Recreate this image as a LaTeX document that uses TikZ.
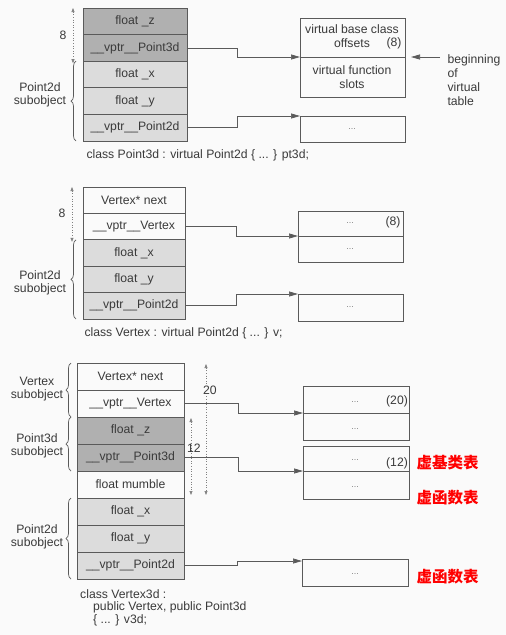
\documentclass[tikz,border=0pt]{standalone}
\usepackage{fontspec}
\setmainfont{Liberation Sans}
\newfontfamily\cjk{Noto Sans CJK SC}
\usetikzlibrary{arrows.meta,decorations.pathreplacing}
\definecolor{txt}{HTML}{3A3A3A}
\definecolor{ln}{HTML}{5A5A5A}
\definecolor{darkc}{HTML}{B0B0B0}
\definecolor{lightc}{HTML}{DCDCDC}
\definecolor{bgc}{HTML}{FAFAFA}
\definecolor{hl}{HTML}{FF0000}
\begin{document}
\begin{tikzpicture}[x=1pt,y=-1pt,
  font=\fontsize{12.2}{14}\selectfont, text=txt,
  cell/.style={draw=ln, line width=0.9pt, inner sep=0pt, outer sep=0pt},
  c1/.style={cell, minimum width=104, minimum height=26.6},
  c2/.style={cell, minimum width=102, minimum height=26.4},
  c3/.style={cell, minimum width=107, minimum height=27},
  vbox/.style={draw=ln, line width=0.9pt, inner sep=0pt, outer sep=0pt, minimum width=105},
  dots/.style={text=gray, font=\fontsize{9}{10}\selectfont},
  lbl/.style={align=center, font=\fontsize{12.2}{13.5}\selectfont},
  conn/.style={draw=ln, line width=0.7pt, -{Triangle[length=9pt,width=5pt]}},
  dimln/.style={draw=gray, line width=0.6pt, dotted, {Triangle[length=4pt,width=3pt]}-{Triangle[length=4pt,width=3pt]}},
  brc/.style={draw=ln, line width=0.7pt, decorate, decoration={brace, amplitude=5pt}},
  red/.style={text=hl, font=\cjk\bfseries\fontsize{15.5}{17}\selectfont, anchor=west},
]
\fill[bgc] (0,0) rectangle (506,635);
\useasboundingbox (0,0) rectangle (506,635);

% ---------------- Section 1 ----------------
\node[c1, fill=darkc] (a1) at (135,21.3) {float \_z};
\node[c1, fill=darkc] (a2) at (135,47.9) {\_\_vptr\_\_Point3d};
\node[c1, fill=lightc] (a3) at (135,74.5) {float \_x};
\node[c1, fill=lightc] (a4) at (135,101.1) {float \_y};
\node[c1, fill=lightc] (a5) at (135,127.7) {\_\_vptr\_\_Point2d};

\draw[dimln] ([xshift=-10]a1.north west) -- ([xshift=-10,yshift=-2]a2.south west);
\node (n8a) at (63,35) {8};
\draw[brc] ([xshift=-7]a5.south west) -- ([xshift=-7]a3.north west);
\node[lbl] (l1) at (40,95) {Point2d\\subobject};

\node[vbox, minimum height=39] (t1a) at (352.5,37.5) {};
\node[vbox, minimum height=40] (t1b) at (352.5,77) {};
\node (t1a1) at (352,29) {virtual base class};
\node (t1a2) at (352,43) {offsets};
\node (t1a3) at (394,43) {(8)};
\node (t1b1) at (352,70) {virtual function};
\node (t1b2) at (352,84) {slots};
\node[vbox, minimum height=26] (t1c) at (352.5,129) {};
\node[dots] (t1c1) at (352,129) {...};

\draw[conn] (a2.east) -- ++(50,0) |- (t1a.south west);
\draw[conn] (a5.east) -- ++(50,0) |- (t1c.north west);

\coordinate (bg1) at (440,57);
\draw[conn] (bg1) -- ([xshift=6]t1a.south east);
\node[align=left, anchor=north west, font=\fontsize{12.2}{14}\selectfont] (bgt) at (444,51) {beginning\\of\\virtual\\table};

\node[anchor=west] (cap1) at (83,155) {class Point3d : virtual Point2d \{ ... \} pt3d;};

% ---------------- Section 2 ----------------
\node[c2] (b1) at (134,200.2) {Vertex* next};
\node[c2] (b2) at (134,226.6) {\_\_vptr\_\_Vertex};
\node[c2, fill=lightc] (b3) at (134,253) {float \_x};
\node[c2, fill=lightc] (b4) at (134,279.4) {float \_y};
\node[c2, fill=lightc] (b5) at (134,305.8) {\_\_vptr\_\_Point2d};

\draw[dimln] ([xshift=-11]b1.north west) -- ([xshift=-11,yshift=-2]b2.south west);
\node (n8b) at (62,213) {8};
\draw[brc] ([xshift=-7]b5.south west) -- ([xshift=-7]b3.north west);
\node[lbl] (l2) at (40,283) {Point2d\\subobject};

\node[vbox, minimum height=25] (t2a) at (350.5,223.5) {};
\node[vbox, minimum height=26] (t2b) at (350.5,249) {};
\node[dots] (t2a1) at (350,223) {...};
\node (t2a2) at (393,222) {(8)};
\node[dots] (t2b1) at (350,249) {...};
\node[vbox, minimum height=27] (t2c) at (350.5,307.5) {};
\node[dots] (t2c1) at (350,307) {...};

\draw[conn] (b2.east) -- ++(51,0) |- (t2a.south west);
\draw[conn] (b5.east) -- ++(51,0) |- (t2c.north west);

\node[anchor=west] (cap2) at (81,333) {class Vertex : virtual Point2d \{ ... \} v;};

% ---------------- Section 3 ----------------
\node[c3] (c1) at (130.5,376.5) {Vertex* next};
\node[c3] (c2) at (130.5,403.5) {\_\_vptr\_\_Vertex};
\node[c3, fill=darkc] (c3) at (130.5,430.5) {float \_z};
\node[c3, fill=darkc] (c4) at (130.5,457.5) {\_\_vptr\_\_Point3d};
\node[c3] (c5) at (130.5,484.5) {float mumble};
\node[c3, fill=lightc] (c6) at (130.5,511.5) {float \_x};
\node[c3, fill=lightc] (c7) at (130.5,538.5) {float \_y};
\node[c3, fill=lightc] (c8) at (130.5,565.5) {\_\_vptr\_\_Point2d};

\draw[brc] ([xshift=-6]c2.south west) -- ([xshift=-6]c1.north west);
\node[lbl] (l3) at (37,389) {Vertex\\subobject};
\draw[brc] ([xshift=-6]c4.south west) -- ([xshift=-6]c3.north west);
\node[lbl] (l4) at (37,446) {Point3d\\subobject};
\draw[brc] ([xshift=-6]c8.south west) -- ([xshift=-6]c6.north west);
\node[lbl] (l5) at (37,537) {Point2d\\subobject};

\coordinate (d20a) at (206,364);
\coordinate (d20b) at (206,495);
\coordinate (d12a) at (191,418);
\coordinate (d12b) at (191,495);
\draw[dimln] (d20a) -- (d20b);
\draw[dimln] (d12a) -- (d12b);
\node[fill=bgc, inner sep=1pt] (n20) at (210,390) {20};
\node[inner sep=1pt] (n12) at (194,448) {12};

\node[vbox, minimum width=106, minimum height=27] (t3a) at (356,399.5) {};
\node[vbox, minimum width=106, minimum height=27] (t3b) at (356,426.5) {};
\node[dots] (t3a1) at (355,402) {...};
\node (t3a2) at (397,401) {(20)};
\node[dots] (t3b1) at (355,429) {...};

\node[vbox, minimum width=106, minimum height=25] (t4a) at (356,458.5) {};
\node[vbox, minimum width=106, minimum height=28] (t4b) at (356,485) {};
\node[dots] (t4a1) at (355,460) {...};
\node (t4a2) at (397,463) {(12)};
\node[dots] (t4b1) at (355,487) {...};

\node[vbox, minimum width=106, minimum height=27] (t5) at (355,572.5) {};
\node[dots] (t51) at (355,574) {...};

\draw[conn] (c2.east) -- ++(54,0) |- (t3a.south west);
\draw[conn] (c4.east) -- ++(54,0) |- (t4a.south west);
\draw[conn] (c8.east) -- ++(53,0) |- ([yshift=-2]t5.north west);

\node[red] (r1) at (413,463) {虚基类表};
\node[red] (r2) at (413,498) {虚函数表};
\node[red] (r3) at (413,577) {虚函数表};

\node[anchor=north west, align=left, inner sep=0pt, font=\fontsize{12.2}{12.8}\selectfont] (cap3) at (80,589) {class Vertex3d :\\\hspace*{13pt}public Vertex, public Point3d\\\hspace*{13pt}\{ ... \} v3d;};
\end{tikzpicture}
\end{document}
